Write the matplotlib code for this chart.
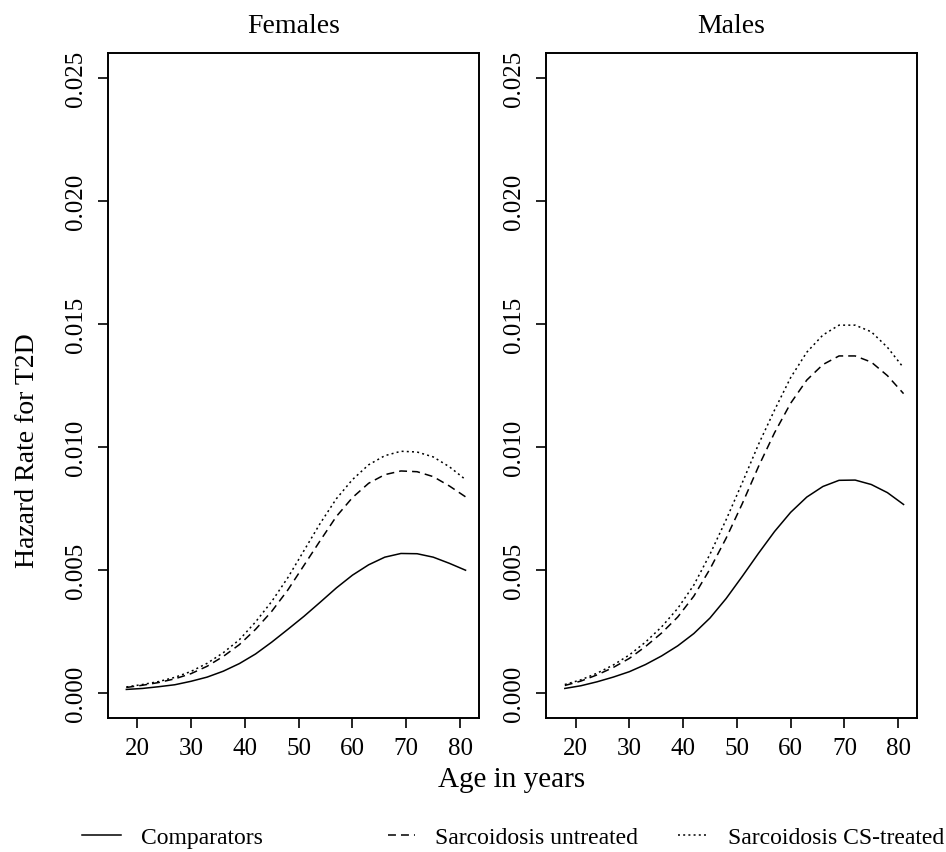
import matplotlib
matplotlib.use("Agg")
import matplotlib.pyplot as plt

plt.rcParams["font.family"] = ["Liberation Serif", "DejaVu Serif"]

# Values
ages = [18, 21, 24, 27, 30, 33, 36, 39, 42, 45, 48, 51, 54, 57, 60, 63, 66, 69, 72, 75, 78, 81]

fem_comp = [0.00016, 0.00020, 0.00027, 0.00035, 0.00049, 0.00066, 0.00090, 0.00121, 0.00160,
            0.00208, 0.00260, 0.00313, 0.00370, 0.00428, 0.00480, 0.00522, 0.00553, 0.00568,
            0.00567, 0.00553, 0.00528, 0.00500]
fem_untr = [0.00024, 0.00033, 0.00044, 0.00059, 0.00080, 0.00110, 0.00150, 0.00198, 0.00260,
            0.00333, 0.00420, 0.00520, 0.00620, 0.00718, 0.00795, 0.00853, 0.00888, 0.00903,
            0.00900, 0.00880, 0.00842, 0.00798]
fem_cs = [0.00026, 0.00036, 0.00048, 0.00065, 0.00089, 0.00122, 0.00165, 0.00218, 0.00290,
          0.00373, 0.00470, 0.00580, 0.00690, 0.00790, 0.00868, 0.00928, 0.00965, 0.00983,
          0.00980, 0.00960, 0.00920, 0.00868]

male_comp = [0.00020, 0.00031, 0.00047, 0.00066, 0.00088, 0.00117, 0.00152, 0.00193, 0.00243,
             0.00306, 0.00385, 0.00475, 0.00568, 0.00657, 0.00735, 0.00797, 0.00840, 0.00865,
             0.00866, 0.00848, 0.00815, 0.00767]
male_untr = [0.00032, 0.00050, 0.00075, 0.00105, 0.00142, 0.00190, 0.00245, 0.00310, 0.00395,
             0.00505, 0.00630, 0.00770, 0.00920, 0.01058, 0.01178, 0.01272, 0.01335, 0.01370,
             0.01370, 0.01345, 0.01290, 0.01217]
male_cs = [0.00036, 0.00055, 0.00082, 0.00115, 0.00156, 0.00208, 0.00270, 0.00345, 0.00440,
           0.00565, 0.00705, 0.00855, 0.01010, 0.01150, 0.01282, 0.01385, 0.01455, 0.01495,
           0.01495, 0.01468, 0.01405, 0.01322]

panels = ["Females", "Males"]
series_labels = ["Comparators", "Sarcoidosis untreated", "Sarcoidosis CS-treated"]
x_ticks = [20, 30, 40, 50, 60, 70, 80]
y_ticks = [0.000, 0.005, 0.010, 0.015, 0.020, 0.025]

data = {
    "Females": [fem_comp, fem_untr, fem_cs],
    "Males": [male_comp, male_untr, male_cs],
}

W, H = 946, 853
fig = plt.figure(figsize=(W / 100, H / 100), dpi=100, facecolor="white")

# panel boxes in pixels: left, right
boxes = [(107.5, 479), (546, 917)]
top, bottom = 54, 719

lw = 1.1
styles = [dict(linestyle="-"), dict(dashes=(5.2, 3.3)), dict(dashes=(1.3, 2.1))]

handles = []
for (x0, x1), name in zip(boxes, panels):
    ax = fig.add_axes([x0 / W, 1 - bottom / H, (x1 - x0) / W, (bottom - top) / H])
    for vals, st, lab in zip(data[name], styles, series_labels):
        ln, = ax.plot(ages, vals, color="black", lw=lw, label=lab,
                      solid_joinstyle="round", **st)
        if name == "Females":
            handles.append(ln)
    ax.set_xlim(14.5, 83.5)
    ax.set_ylim(-0.001, 0.026)
    ax.set_xticks(x_ticks)
    ax.set_yticks(y_ticks)
    ax.set_yticklabels([f"{v:.3f}" for v in y_ticks], rotation=90, va="center")
    ax.tick_params(axis="both", labelsize=18, length=7, width=1.2, direction="out")
    ax.tick_params(axis="y", pad=8)
    ax.tick_params(axis="x", pad=7)
    for sp in ax.spines.values():
        sp.set_linewidth(1.4)
    ax.text(0.5, 1 + 21 / (bottom - top), name, transform=ax.transAxes,
            ha="center", va="baseline", fontsize=20)

# axis labels shared by both panels
fig.text(512 / W, 1 - 780 / H, "Age in years", ha="center", va="center", fontsize=21)
fig.text(27 / W, 1 - 451 / H, "Hazard Rate for T2D", ha="center", va="center",
         rotation=90, fontsize=20)

# main title, mostly cut off at the top edge as in the reference
fig.text(394 / W, 1 + 7 / H, "Yearly hazard rate of T2D by age", ha="center",
         va="baseline", fontsize=24)

# legend entries placed one by one, as in the reference row
legend_x = [82, 388, 678]
hlens = [1.65, 1.15, 1.27]
for h, lab, lx, hl in zip(handles, series_labels, legend_x, hlens):
    fig.legend(handles=[h], labels=[lab], loc="center left",
               bbox_to_anchor=(lx / W, 1 - 838 / H), frameon=False, fontsize=17,
               handlelength=hl, handletextpad=0.85, borderaxespad=0, borderpad=0)

fig.savefig("out.png", dpi=100, facecolor="white")
